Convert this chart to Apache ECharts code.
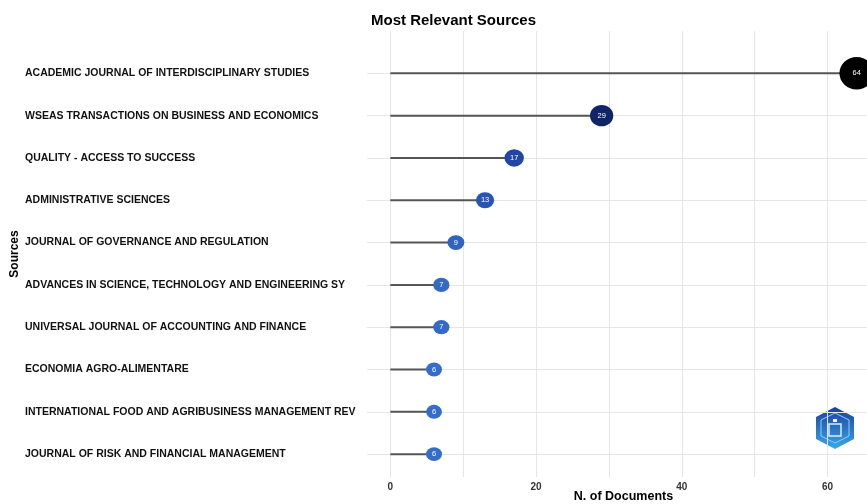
<!DOCTYPE html>
<html>
<head>
<meta charset="utf-8">
<script src="https://cdn.jsdelivr.net/npm/echarts@6/dist/echarts.min.js"></script>
<style>html,body{margin:0;padding:0;background:#fff}#c{width:867px;height:504px}</style>
</head>
<body>
<div id="c"></div>
<script>
const sources = [
  'ACADEMIC JOURNAL OF INTERDISCIPLINARY STUDIES',
  'WSEAS TRANSACTIONS ON BUSINESS AND ECONOMICS',
  'QUALITY - ACCESS TO SUCCESS',
  'ADMINISTRATIVE SCIENCES',
  'JOURNAL OF GOVERNANCE AND REGULATION',
  'ADVANCES IN SCIENCE, TECHNOLOGY AND ENGINEERING SY',
  'UNIVERSAL JOURNAL OF ACCOUNTING AND FINANCE',
  'ECONOMIA AGRO-ALIMENTARE',
  'INTERNATIONAL FOOD AND AGRIBUSINESS MANAGEMENT REV',
  'JOURNAL OF RISK AND FINANCIAL MANAGEMENT'
];
const documents = [64, 29, 17, 13, 9, 7, 7, 6, 6, 6];
const xLabelTicks = [0, 20, 40, 60];
const xGridTicks = [0, 10, 20, 30, 40, 50, 60];

const rowIdx = sources.map((s, i) => i);
const points = documents.map((v, i) => [v, i]);

const chart = echarts.init(document.getElementById('c'), null, {renderer: 'canvas'});
const font = 'Liberation Sans, Arial, sans-serif';

chart.setOption({
  animation: false,
  backgroundColor: '#fff',
  title: {
    text: 'Most Relevant Sources',
    left: 366, top: 8,
    textStyle: {fontFamily: font, fontSize: 15, fontWeight: 'bold', color: '#000'}
  },
  grid: {left: 367, top: 31, width: 513, bottom: 27, containLabel: false, outerBoundsMode: 'none'},
  visualMap: {
    show: false, type: 'continuous', seriesIndex: 1, dimension: 0,
    min: 6, max: 64,
    inRange: {color: ['#356dca', '#1b3a9a', '#081645', '#03081e', '#000000']}
  },
  xAxis: {
    type: 'value', min: -3.2, max: 67.2,
    name: 'N. of Documents', nameLocation: 'middle', nameGap: 13, nameMoveOverlap: false,
    nameTextStyle: {fontFamily: font, fontSize: 12.5, fontWeight: 'bold', color: '#000'},
    axisLine: {show: false},
    axisTick: {show: false, customValues: xGridTicks},
    axisLabel: {customValues: xLabelTicks, margin: 5, fontFamily: font, fontSize: 10, fontWeight: 'bold', color: '#333'},
    splitLine: {show: true, lineStyle: {color: '#e6e6e6', width: 1}}
  },
  yAxis: {
    type: 'value', inverse: true, min: -1, max: 9.54,
    name: 'Sources', nameLocation: 'middle', nameGap: 346, nameRotate: 90, nameMoveOverlap: false,
    nameTextStyle: {fontFamily: font, fontSize: 12, fontWeight: 'bold', color: '#000'},
    axisLine: {show: false},
    axisTick: {show: false, customValues: rowIdx},
    axisLabel: {
      customValues: rowIdx, align: 'left', margin: 342,
      formatter: v => sources[Math.round(v)] || '',
      fontFamily: font, fontSize: 10.5, fontWeight: 'bold', color: '#111'
    },
    splitLine: {show: true, lineStyle: {color: '#e6e6e6', width: 1}}
  },
  series: [
    {
      type: 'custom',
      data: points,
      renderItem: function (params, api) {
        const a = api.coord([0, api.value(1)]);
        const b = api.coord([api.value(0), api.value(1)]);
        return {type: 'line', shape: {x1: a[0], y1: a[1], x2: b[0], y2: b[1]},
                style: {stroke: '#555', lineWidth: 2}};
      },
      z: 2
    },
    {
      type: 'scatter',
      data: points,
      symbol: 'circle',
      symbolSize: d => [14 + 0.32 * d[0], 12 + 0.32 * d[0]],
      itemStyle: {opacity: 1},
      label: {show: true, position: 'inside', formatter: p => p.value[0],
              fontFamily: font, fontSize: 7.5, color: '#fff'},
      z: 3
    }
  ],
  graphic: [
    {
      type: 'group', left: 816, top: 407,
      children: [
        {type: 'polygon', shape: {points: [[20,0],[39,10],[39,32],[20,42],[1,32],[1,10]]},
         style: {fill: new echarts.graphic.LinearGradient(0,0,0,1,[{offset:0,color:'#1c3f9a'},{offset:1,color:'#3aa8ea'}])}},
        {type: 'polygon', shape: {points: [[20,6],[34,13],[34,29],[20,36],[6,29],[6,13]]},
         style: {fill: 'none', stroke: '#8fd0ff', lineWidth: 1}},
        {type: 'rect', shape: {x: 14, y: 17, width: 12, height: 12}, style: {fill: 'none', stroke: '#d8f0ff', lineWidth: 1.5}},
        {type: 'rect', shape: {x: 18, y: 12, width: 4, height: 3}, style: {fill: '#ffffff'}}
      ]
    }
  ]
});
</script>
</body>
</html>
